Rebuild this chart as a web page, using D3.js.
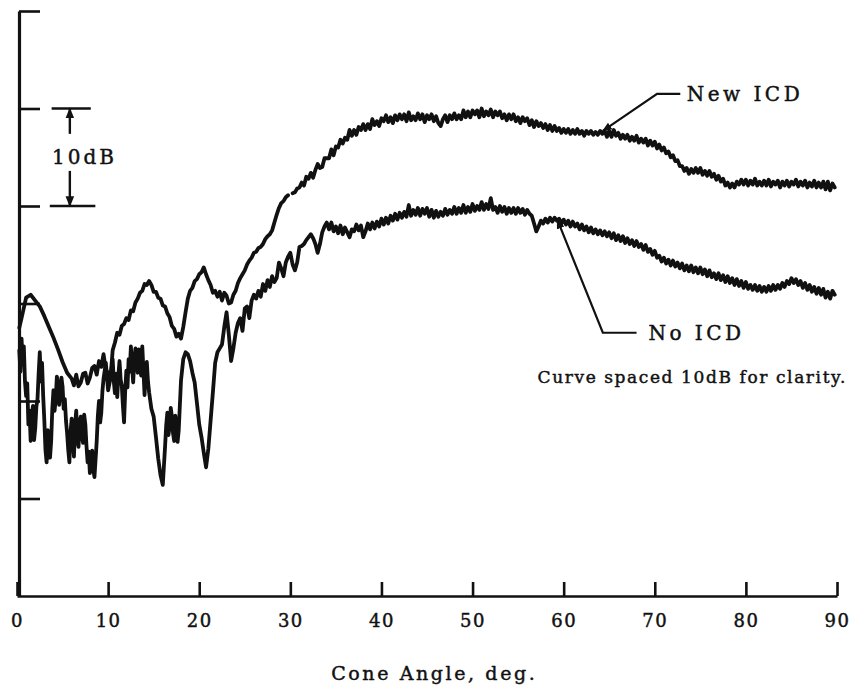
<!DOCTYPE html>
<html><head><meta charset="utf-8">
<script src="https://cdn.jsdelivr.net/npm/d3@7"></script>
<style>
html,body{margin:0;padding:0;background:#fff;}
svg{display:block;}
text{font-family:"DejaVu Serif","Liberation Serif",serif;fill:#111;stroke:#111;stroke-width:0.45px;}
</style></head>
<body>
<svg id="chart" width="851" height="693"></svg>
<script>
// ---- data (cone angle in deg, relative level in dB; upper curve offset +10 dB) ----
const xTickValues = [0,10,20,30,40,50,60,70,80,90];
const yTickValues = [10,20,30,40,50,60];
const xTitle = "Cone Angle, deg.";
const noteText = "Curve spaced 10dB for clarity.";
const labelNew = "New ICD";
const labelNo = "No ICD";
const bracketText = "10dB";

const newICD = [
[0.25,27.5],[0.5,28.5],[1,30.6],[1.5,30.9],[2,30.3],[2.5,29.7],[3,28.7],[3.5,27.6],[4,26.5],[4.5,25.3],[5,24.0],
[5.5,22.9],[6,22.3],[6.25,21.6],[6.5,22.7],[6.75,21.5],[7,21.9],[7.25,22.8],[7.5,22.9],[7.75,21.8],[8,22.4],
[8.25,23.4],[8.5,23.6],[8.75,22.7],[9,24.1],[9.25,23.5],[9.5,24.8],[9.75,23.2],[10,22.9],[10.25,22.2],[10.5,25.2],
[10.75,26.0],[11,27.0],[11.25,26.8],[11.5,27.7],[11.75,27.9],[12,28.5],[12.25,28.3],[12.5,29.3],[12.75,29.2],[13,30.1],
[13.25,30.5],[13.5,31.1],[13.75,31.3],[14,32.0],[14.25,31.9],[14.5,32.3],[14.75,31.9],[15,31.2],[15.25,31.2],[15.5,30.6],
[15.75,30.5],[16,29.8],[16.25,29.7],[16.5,29.0],[16.75,28.6],[17,27.7],[17.25,27.4],[17.5,26.6],[17.75,26.9],[18,26.4],
[18.25,27.6],[18.5,29.1],[18.75,30.5],[19,31.3],[19.25,31.6],[19.5,32.3],[19.75,32.5],[20,33.0],[20.25,33.2],[20.5,33.7],
[20.75,33.0],[21,32.4],[21.25,31.9],[21.5,31.1],[21.75,31.3],[22,30.7],[22.25,31.2],[22.5,30.3],[22.75,31.1],[23,30.8],
[23.25,30.0],[23.5,30.1],[23.75,30.9],[24,31.3],[24.25,32.1],[24.5,32.6],[24.75,33.0],[25,33.4],[25.25,34.0],[25.5,34.4],
[25.75,34.7],[26,35.2],[26.25,35.3],[26.5,35.7],[26.75,35.8],[27,36.1],[27.25,36.6],[27.5,36.9],[27.75,37.1],[28,37.5],
[28.25,38.3],[28.5,39.1],[28.75,39.8],[29,40.3],[29.25,40.5],[29.5,40.9],[29.75,41.1],[30,null],[30.25,41.3],[30.5,41.4],
[30.75,41.8],[31,41.9],[31.25,42.4],[31.5,42.1],[31.75,43.0],[32,42.8],[32.25,43.4],[32.5,42.9],[32.75,43.7],[33,44.3],
[33.25,43.9],[33.5,44.0],[33.75,44.9],[34,44.9],[34.25,44.9],[34.5,45.8],[34.75,45.2],[35,46.1],[35.25,46.0],[35.5,46.8],
[35.75,46.4],[36,47.0],[36.25,46.8],[36.5,47.8],[36.75,47.2],[37,47.8],[37.25,47.3],[37.5,48.1],[37.75,47.8],[38,48.4],
[38.25,47.8],[38.5,48.4],[38.75,47.9],[39,48.9],[39.25,48.3],[39.5,48.7],[39.75,48.2],[40,49.0],[40.25,48.7],[40.5,49.3],
[40.75,48.6],[41,49.1],[41.25,48.5],[41.5,49.3],[41.75,48.8],[42,49.4],[42.25,48.9],[42.5,49.4],[42.75,48.7],[43,49.6],
[43.25,48.8],[43.5,49.2],[43.75,48.8],[44,49.5],[44.25,48.9],[44.5,49.4],[44.75,48.6],[45,49.3],[45.25,48.9],[45.5,49.4],
[45.75,48.7],[46,49.2],[46.25,48.5],[46.5,48.2],[46.75,48.9],[47,49.3],[47.25,48.6],[47.5,49.3],[47.75,48.9],[48,49.5],
[48.25,48.9],[48.5,49.3],[48.75,48.9],[49,49.8],[49.25,49.1],[49.5,49.7],[49.75,49.1],[50,49.8],[50.25,49.4],[50.5,49.8],
[50.75,49.1],[51,50.0],[51.25,49.2],[51.5,49.7],[51.75,49.3],[52,49.9],[52.25,49.1],[52.5,49.7],[52.75,49.3],[53,49.7],
[53.25,49.0],[53.5,49.4],[53.75,48.8],[54,49.4],[54.25,48.9],[54.5,49.4],[54.75,48.7],[55,49.1],[55.25,48.5],[55.5,49.1],
[55.75,48.7],[56,49.0],[56.25,48.3],[56.5,48.8],[56.75,48.1],[57,48.7],[57.25,48.2],[57.5,48.5],[57.75,48.0],[58,48.4],
[58.25,47.8],[58.5,48.3],[58.75,47.7],[59,48.2],[59.25,47.7],[59.5,48.0],[59.75,47.5],[60,47.9],[60.25,47.5],[60.5,47.9],
[60.75,47.4],[61,47.8],[61.25,47.4],[61.5,47.9],[61.75,47.4],[62,47.7],[62.25,47.2],[62.5,47.7],[62.75,47.4],[63,47.7],
[63.25,47.3],[63.5,47.6],[63.75,47.3],[64,47.7],[64.25,47.4],[64.5,47.7],[64.75,47.1],[65,47.7],[65.25,47.1],[65.5,47.8],
[65.75,47.2],[66,47.5],[66.25,46.9],[66.5,47.3],[66.75,46.9],[67,47.3],[67.25,46.7],[67.5,47.1],[67.75,46.7],[68,47.2],
[68.25,46.5],[68.5,46.9],[68.75,46.5],[69,46.9],[69.25,46.2],[69.5,46.7],[69.75,46.2],[70,46.6],[70.25,45.9],[70.5,46.3],
[70.75,45.7],[71,46.0],[71.25,45.4],[71.5,45.6],[71.75,45.0],[72,45.2],[72.25,44.6],[72.5,44.7],[72.75,44.1],[73,44.1],
[73.25,43.6],[73.5,43.9],[73.75,43.3],[74,43.8],[74.25,43.4],[74.5,43.9],[74.75,43.4],[75,43.9],[75.25,43.2],[75.5,43.6],
[75.75,43.1],[76,43.6],[76.25,43.0],[76.5,43.3],[76.75,42.7],[77,43.1],[77.25,42.5],[77.5,42.8],[77.75,42.1],[78,42.4],
[78.25,41.9],[78.5,42.3],[78.75,41.9],[79,42.5],[79.25,42.2],[79.5,42.7],[79.75,42.2],[80,42.7],[80.25,42.1],[80.5,42.6],
[80.75,42.2],[81,42.8],[81.25,42.1],[81.5,42.5],[81.75,42.1],[82,42.6],[82.25,42.1],[82.5,42.7],[82.75,42.0],[83,42.5],
[83.25,42.2],[83.5,42.6],[83.75,41.9],[84,42.5],[84.25,42.1],[84.5,42.6],[84.75,42.0],[85,42.5],[85.25,42.2],[85.5,42.7],
[85.75,42.0],[86,42.5],[86.25,42.1],[86.5,42.6],[86.75,41.9],[87,42.4],[87.25,42.0],[87.5,42.6],[87.75,41.9],[88,42.4],
[88.25,41.9],[88.5,42.5],[88.75,41.7],[89,42.5],[89.25,41.6],[89.5,42.3],[89.75,41.9]
];

const noICD = [
[0.25,25.2],[0.375,23.0],[0.5,26.4],[0.625,24.0],[0.75,25.6],[0.875,22.0],[1,20.5],[1.125,21.8],[1.25,17.6],[1.375,19.0],
[1.5,15.9],[1.625,18.6],[1.75,19.5],[1.875,16.0],[2,17.2],[2.125,19.4],[2.25,20.2],[2.375,22.8],[2.5,25.0],[2.625,22.0],
[2.75,23.9],[2.875,20.5],[3,18.0],[3.125,15.0],[3.25,13.7],[3.375,17.0],[3.5,16.5],[3.625,14.2],[3.75,15.9],[3.875,19.2],
[4,21.1],[4.125,19.0],[4.25,20.2],[4.375,22.5],[4.5,21.8],[4.625,19.6],[4.75,20.8],[4.875,22.4],[5,21.5],[5.125,19.2],
[5.25,20.2],[5.375,18.0],[5.5,16.7],[5.625,15.0],[5.75,13.7],[5.875,16.8],[6,18.2],[6.125,16.0],[6.25,14.3],[6.375,17.5],
[6.5,19.0],[6.625,16.2],[6.75,15.3],[6.875,17.9],[7,18.4],[7.125,16.4],[7.25,15.7],[7.375,18.6],[7.5,17.6],[7.625,15.4],
[7.75,13.7],[7.875,14.8],[8,12.6],[8.125,13.9],[8.25,14.9],[8.375,13.0],[8.5,12.2],[8.625,14.0],[8.75,15.9],[8.875,18.5],
[9,20.0],[9.125,17.8],[9.25,18.8],[9.375,21.0],[9.5,22.3],[9.75,23.9],[10,21.1],
[10.25,22.3],[10.5,24.3],[10.625,22.0],[10.75,20.8],[10.875,22.8],[11,20.4],[11.125,22.6],[11.25,24.1],[11.375,22.2],[11.5,21.6],
[11.625,19.5],[11.75,17.8],[11.875,21.0],[12,23.1],[12.125,21.4],[12.25,24.3],[12.375,23.0],[12.5,25.6],[12.625,23.6],[12.75,21.9],
[12.875,24.2],[13,25.4],[13.125,23.8],[13.25,22.9],[13.375,25.3],[13.5,24.1],[13.625,22.6],[13.75,25.6],[13.875,23.2],[14,20.6],
[14.125,22.9],[14.25,24.0],[14.375,22.0],[14.5,20.9],[14.75,19.2],[15,18.4],
[15.25,16.3],[15.5,14.1],[15.75,12.4],[16,11.4],[16.25,15.3],[16.375,17.5],[16.5,18.8],[16.625,16.5],[16.75,17.4],[16.875,19.3],
[17,18.4],[17.125,16.7],[17.25,15.9],[17.375,18.5],[17.5,17.6],[17.625,15.8],
[17.75,17.0],[18,22.1],[18.25,24.3],[18.5,25.0],[18.75,24.8],[19,24.1],[19.25,22.9],[19.5,21.9],[19.75,19.8],[20,17.6],
[20.25,16.3],[20.5,14.7],[20.75,13.2],[21,15.1],[21.25,18.0],[21.5,20.9],[21.75,23.9],[22,25.0],[22.25,25.4],[22.5,25.8],
[22.75,27.6],[23,29.1],[23.25,26.8],[23.5,24.1],[23.75,25.4],[24,27.0],[24.25,28.0],[24.5,28.5],[24.75,27.2],[25,29.5],
[25.25,29.7],[25.5,28.5],[25.75,30.3],[26,30.9],[26.25,30.5],[26.5,31.3],[26.75,30.7],[27,32.0],[27.25,31.3],[27.5,32.4],
[27.75,31.7],[28,32.8],[28.25,32.2],[28.5,32.6],[28.75,34.2],[29,33.6],[29.25,32.8],[29.5,34.2],[29.75,34.8],[30,35.2],
[30.25,34.0],[30.5,33.4],[30.75,34.2],[31,35.8],[31.25,35.9],[31.5,36.1],[31.75,36.5],[32,36.8],[32.25,37.1],[32.5,36.7],
[32.75,36.1],[33,35.2],[33.25,36.1],[33.5,37.3],[33.75,37.9],[34,38.3],[34.25,37.6],[34.5,38.3],[34.75,37.4],[35,37.9],
[35.25,37.2],[35.5,38.0],[35.75,37.1],[36,37.8],[36.25,37.3],[36.5,36.8],[36.75,37.6],[37,37.4],[37.25,38.1],[37.5,37.5],
[37.75,38.0],[38,36.8],[38.25,37.4],[38.5,38.2],[38.75,37.6],[39,38.3],[39.25,37.7],[39.5,38.4],[39.75,37.9],[40,38.7],
[40.25,38.1],[40.5,38.8],[40.75,38.2],[41,39.0],[41.25,38.5],[41.5,39.2],[41.75,38.6],[42,39.3],[42.25,38.8],[42.5,39.4],
[42.75,38.9],[43,40.1],[43.25,39.0],[43.5,39.6],[43.75,39.1],[44,39.8],[44.25,39.0],[44.5,39.7],[44.75,39.2],[45,39.8],
[45.25,38.9],[45.5,39.6],[45.75,38.8],[46,39.5],[46.25,38.9],[46.5,39.4],[46.75,39.0],[47,39.7],[47.25,39.1],[47.5,39.6],
[47.75,39.2],[48,39.9],[48.25,39.2],[48.5,39.8],[48.75,39.3],[49,40.1],[49.25,39.3],[49.5,39.9],[49.75,39.4],[50,40.2],
[50.25,39.5],[50.5,40.0],[50.75,39.6],[51,40.4],[51.25,39.6],[51.5,40.2],[51.75,39.7],[52,40.8],[52.25,39.6],[52.5,39.9],
[52.75,39.3],[53,40.0],[53.25,39.4],[53.5,39.9],[53.75,39.2],[54,39.8],[54.25,39.3],[54.5,39.8],[54.75,39.2],[55,39.8],
[55.25,39.3],[55.5,39.7],[55.75,39.1],[56,39.6],[56.25,39.2],[56.5,39.0],[56.75,38.2],[57,37.4],[57.25,37.9],[57.5,38.5],
[57.75,38.2],[58,38.7],[58.25,38.3],[58.5,38.8],[58.75,38.4],[59,38.8],[59.25,38.5],[59.5,38.7],[59.75,38.2],[60,38.6],
[60.25,38.1],[60.5,38.5],[60.75,37.9],[61,38.4],[61.25,37.9],[61.5,38.2],[61.75,37.6],[62,38.1],[62.25,37.5],[62.5,37.9],
[62.75,37.3],[63,37.8],[63.25,37.2],[63.5,37.6],[63.75,37.1],[64,37.5],[64.25,37.0],[64.5,37.4],[64.75,36.9],[65,37.3],
[65.25,36.7],[65.5,37.2],[65.75,36.5],[66,37.0],[66.25,36.4],[66.5,36.9],[66.75,36.2],[67,36.7],[67.25,36.1],[67.5,36.5],
[67.75,35.9],[68,36.4],[68.25,35.8],[68.5,36.1],[68.75,35.5],[69,36.0],[69.25,35.3],[69.5,35.6],[69.75,35.0],[70,35.4],
[70.25,34.7],[70.5,34.9],[70.75,34.3],[71,34.7],[71.25,34.1],[71.5,34.5],[71.75,33.9],[72,34.4],[72.25,33.8],[72.5,34.2],
[72.75,33.6],[73,34.1],[73.25,33.4],[73.5,33.9],[73.75,33.3],[74,33.9],[74.25,33.2],[74.5,33.7],[74.75,33.1],[75,33.7],
[75.25,33.0],[75.5,33.5],[75.75,32.8],[76,33.4],[76.25,32.7],[76.5,33.1],[76.75,32.5],[77,33.1],[77.25,32.4],[77.5,32.9],
[77.75,32.2],[78,32.8],[78.25,32.1],[78.5,32.6],[78.75,31.9],[79,32.5],[79.25,31.8],[79.5,32.3],[79.75,31.6],[80,32.2],
[80.25,31.5],[80.5,31.9],[80.75,31.4],[81,31.9],[81.25,31.3],[81.5,31.8],[81.75,31.2],[82,31.7],[82.25,31.2],[82.5,31.8],
[82.75,31.3],[83,31.9],[83.25,31.4],[83.5,31.9],[83.75,31.5],[84,32.1],[84.25,31.7],[84.5,32.3],[84.75,32.0],[85,32.6],
[85.25,32.1],[85.5,32.5],[85.75,31.9],[86,32.3],[86.25,31.6],[86.5,32.1],[86.75,31.4],[87,31.9],[87.25,31.2],[87.5,31.7],
[87.75,31.0],[88,31.6],[88.25,30.9],[88.5,31.5],[88.75,30.6],[89,31.2],[89.25,30.5],[89.5,31.3],[89.75,30.9]
];

// annotation anchors in data units [angle, dB]
const newArrow = [[72.8,51.5],[70.25,51.5],[64.3,47.7]];
const noArrow  = [[68.0,27.0],[64.3,27.0],[59.3,38.6]];
const newLabelPos = [73.5,51.5];
const noLabelPos  = [69.3,27.0];
const notePos = [91.1,21.8];
const bracketLevels = [50,40];
const bracketSpan = [[3.8,8.1],[3.6,8.6]];
const bracketArrowAngle = 5.8;
const bracketArrowUp = [47.4,50];
const bracketArrowDown = [43.6,40];
const bracketLabelPos = [7.4,45];

// ---- drawing ----
const svg = d3.select("#chart");
const W = 851, H = 693;
svg.append("rect").attr("width",W).attr("height",H).attr("fill","#fff");

const x = d3.scaleLinear().domain([0,90]).range([17,837]);
const y = d3.scaleLinear().domain([0,60]).range([596,11]);

const defs = svg.append("defs");
defs.append("marker").attr("id","arr").attr("viewBox","0 0 10 10")
  .attr("refX",9).attr("refY",5).attr("markerWidth",4.5).attr("markerHeight",4.5)
  .attr("markerUnits","strokeWidth").attr("orient","auto")
  .append("path").attr("d","M0,1 L10,5 L0,9 Z").attr("fill","#111");

// y axis
const yAxis = d3.axisLeft(y).tickValues(yTickValues).tickSize(-21).tickSizeOuter(0).tickFormat("");
const gy = svg.append("g").attr("transform",`translate(${x(0)+2},0)`).call(yAxis);
gy.select(".domain").attr("stroke","#111").attr("stroke-width",3.2);
gy.selectAll(".tick line").attr("stroke","#111").attr("stroke-width",2.6);

// x axis
const xAxis = d3.axisBottom(x).tickValues(xTickValues).tickSize(-14).tickSizeOuter(0).tickPadding(18);
const gx = svg.append("g").attr("transform",`translate(0,${y(0)})`).call(xAxis);
gx.select(".domain").attr("stroke","#111").attr("stroke-width",2.4);
gx.selectAll(".tick line").attr("stroke","#111").attr("stroke-width",2.6);
gx.selectAll(".tick text").attr("font-family","DejaVu Serif").attr("font-size",18)
  .attr("letter-spacing","1.5px").attr("fill","#111").attr("stroke","#111").attr("stroke-width",0.45);

svg.append("text").attr("x",x(45.8)).attr("y",y(0)+84).attr("text-anchor","middle")
  .attr("font-size",19).attr("letter-spacing","2.6px").text(xTitle);

// curves
const line = d3.line().defined(d => d[1] !== null).x(d => x(d[0])).y(d => y(d[1])).curve(d3.curveLinear);
[newICD, noICD].forEach(s => {
  svg.append("path").datum(s).attr("d",line).attr("fill","none")
    .attr("stroke","#111").attr("stroke-width",3.8).attr("stroke-linejoin","round").attr("stroke-linecap","round");
});

// leader lines
const lead = d3.line().x(d => x(d[0])).y(d => y(d[1]));
[newArrow, noArrow].forEach(a => {
  svg.append("path").datum(a).attr("d",lead).attr("fill","none").attr("stroke","#111")
    .attr("stroke-width",2.2).attr("marker-end","url(#arr)");
});
svg.append("text").attr("x",x(newLabelPos[0])).attr("y",y(newLabelPos[1])).attr("dy","0.36em")
  .attr("font-size",20).attr("letter-spacing","3.5px").text(labelNew);
svg.append("text").attr("x",x(noLabelPos[0])).attr("y",y(noLabelPos[1])).attr("dy","0.36em")
  .attr("font-size",20).attr("letter-spacing","3.5px").text(labelNo);
svg.append("text").attr("x",x(notePos[0])).attr("y",y(notePos[1])).attr("text-anchor","end")
  .attr("font-size",17).attr("letter-spacing","1.6px").text(noteText);

// 10 dB bracket
bracketLevels.forEach((lv,i) => {
  svg.append("line").attr("x1",x(bracketSpan[i][0])).attr("x2",x(bracketSpan[i][1]))
    .attr("y1",y(lv)).attr("y2",y(lv)).attr("stroke","#111").attr("stroke-width",2.6);
});
[bracketArrowUp, bracketArrowDown].forEach(a => {
  svg.append("line").attr("x1",x(bracketArrowAngle)).attr("x2",x(bracketArrowAngle))
    .attr("y1",y(a[0])).attr("y2",y(a[1])).attr("stroke","#111").attr("stroke-width",2.4)
    .attr("marker-end","url(#arr)");
});
svg.append("text").attr("x",x(bracketLabelPos[0])).attr("y",y(bracketLabelPos[1])).attr("dy","0.36em")
  .attr("text-anchor","middle").attr("font-size",20).attr("letter-spacing","3px").text(bracketText);
</script>
</body></html>
